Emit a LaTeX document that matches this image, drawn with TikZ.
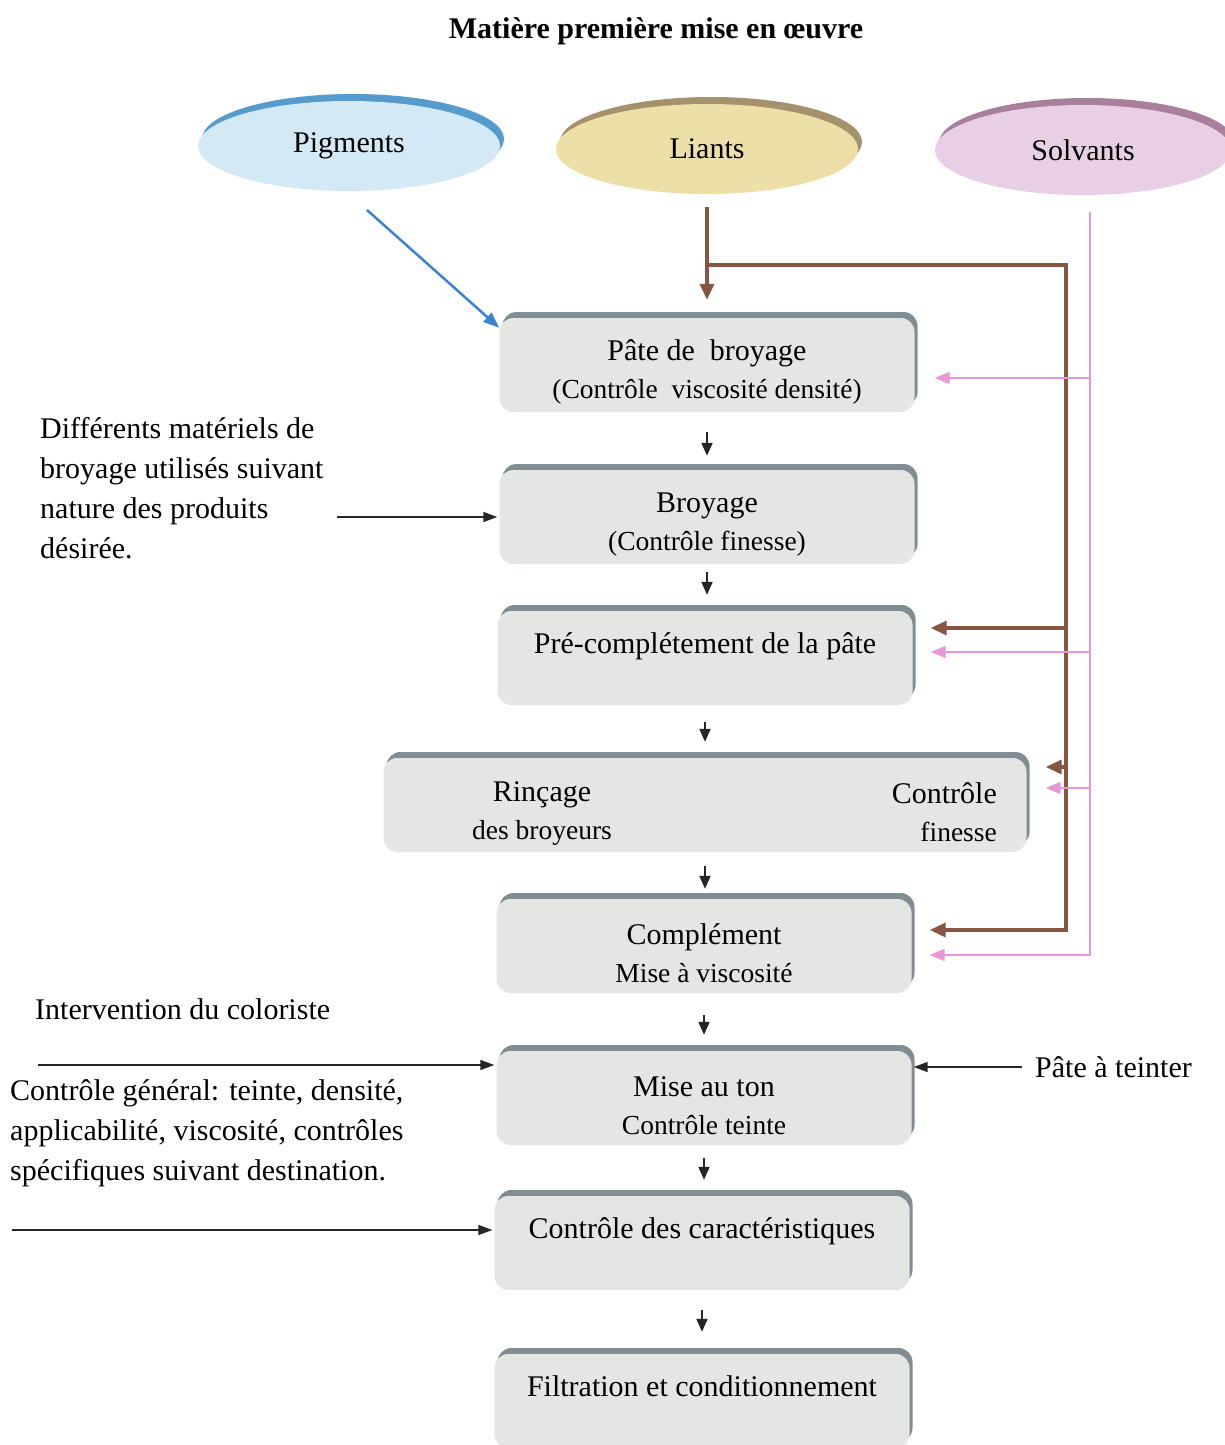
\documentclass[tikz,border=0pt]{standalone}
\usepackage{fontspec}
\setmainfont{Liberation Serif}
\usetikzlibrary{positioning,shapes.geometric,shadows,arrows.meta,calc}

\definecolor{pigfill}{RGB}{212,233,246}
\definecolor{pigrim}{RGB}{85,155,205}
\definecolor{liafill}{RGB}{237,223,168}
\definecolor{liarim}{RGB}{165,145,108}
\definecolor{solfill}{RGB}{232,207,229}
\definecolor{solrim}{RGB}{168,128,158}
\definecolor{slabfill}{RGB}{227,230,227}
\definecolor{slabrim}{RGB}{128,142,148}
\definecolor{liantbrown}{RGB}{135,85,65}
\definecolor{solvpink}{RGB}{232,150,212}
\definecolor{pigblue}{RGB}{60,130,210}

\newcommand{\txtmain}{\fontsize{30}{38}\selectfont}
\newcommand{\txtsub}{\fontsize{27.5}{38}\selectfont}
\newcommand{\txtside}{\fontsize{30}{40}\selectfont}
\newcommand{\lift}{\rule{0pt}{35pt}}

\begin{document}
\begin{tikzpicture}[x=1pt, y=-1pt,
  disk/.style={ellipse, minimum width=302pt, minimum height=90pt, inner sep=0pt, font=\txtmain},
  slab/.style={rectangle, rounded corners=14pt, fill=slabfill, minimum width=415pt, minimum height=94pt, inner sep=0pt, align=center, font=\txtmain,
    drop shadow={shadow xshift=3pt, shadow yshift=6pt, fill=slabrim, opacity=1}},
  oneline/.style={text height=21pt, text depth=31pt},
  sidetext/.style={inner sep=0pt, font=\txtside, align=left},
  steparrow/.style={-{Triangle[length=13pt,width=11pt]}, line width=2pt, black!85},
  sidearrow/.style={-{Triangle[length=14pt,width=10pt]}, line width=1.5pt, black!85},
  brownline/.style={line width=3.4pt, liantbrown},
  brownarrow/.style={brownline, -{Triangle[length=16pt,width=14pt]}},
  pinkline/.style={line width=1.8pt, solvpink},
  pinkarrow/.style={pinkline, -{Triangle[length=15pt,width=12pt]}},
  bluearrow/.style={line width=2.5pt, pigblue, -{Triangle[length=16pt,width=12pt]}}]
\useasboundingbox (0,0) rectangle (1225,1445);
\fill[white] (0,0) rectangle (1225,1445);

\node[font=\bfseries\txtmain] (node_titre) [] at (656,31) {Matière première mise en œuvre};

% matieres premieres
\node[disk, fill=pigfill, drop shadow={shadow xshift=4pt, shadow yshift=7pt, fill=pigrim, opacity=1}] (node_pigments) [] at (349,146) {Pigments};
\node[disk, fill=liafill, drop shadow={shadow xshift=4pt, shadow yshift=7pt, fill=liarim, opacity=1}] (node_liants) [] at (707,149) {Liants};
\node[disk, fill=solfill, minimum width=296pt, drop shadow={shadow xshift=4pt, shadow yshift=7pt, fill=solrim, opacity=1}] (node_solvants) [] at (1083,150) {Solvants};

% etapes
\node[slab] (node_pate) [] at (707,365) {\lift Pâte de~ broyage\\ \txtsub (Contrôle~ viscosité densité)};
\node[slab] (node_broyage) [] at (707,517) {\lift Broyage\\ \txtsub (Contrôle finesse)};
\node[slab, oneline] (node_precomp) [] at (705,658) {Pré-complétement de la pâte};
\node[slab, minimum width=643pt] (node_rincage) [] at (705,805) {};
\node[inner sep=0pt, align=center, font=\txtmain] (node_rincage_l) [] at (542,814) {Rinçage\\ \txtsub des broyeurs};
\node[inner sep=0pt, align=right, font=\txtmain, anchor=east] (node_rincage_r) [] at (997,812) {Contrôle\\ \txtsub finesse};
\node[slab] (node_complement) [] at (704,946) {\lift Complément\\ \txtsub Mise à viscosité};
\node[slab] (node_ton) [] at (704,1098) {\lift Mise au ton\\ \txtsub Contrôle teinte};
\node[slab, oneline] (node_caract) [] at (702,1243) {Contrôle des caractéristiques};
\node[slab, oneline] (node_filtration) [] at (702,1401) {Filtration et conditionnement};

\draw[steparrow, shorten <=20pt, shorten >=14pt] (node_pate.south) -- (node_pate.south |- node_broyage.north);
\draw[steparrow, shorten <=8pt, shorten >=16pt] (node_broyage.south) -- (node_broyage.south |- node_precomp.north);
\draw[steparrow, shorten <=17pt, shorten >=16pt] (node_precomp.south) -- (node_precomp.south |- node_rincage.north);
\draw[steparrow, shorten <=14pt, shorten >=10pt] (node_rincage.south) -- (node_rincage.south |- node_complement.north);
\draw[steparrow, shorten <=22pt, shorten >=16pt] (node_complement.south) -- (node_complement.south |- node_ton.north);
\draw[steparrow, shorten <=13pt, shorten >=16pt] (node_ton.south) -- (node_ton.south |- node_caract.north);
\draw[steparrow, shorten <=20pt, shorten >=22pt] (node_caract.south) -- (node_caract.south |- node_filtration.north);

% pigments
\coordinate (pig_out) at (367,210);
\draw[bluearrow] (pig_out) -- ($(node_pate.north west)+(0,10)$);

% liants
\coordinate (brown_corner) at (1066,265);
\draw[brownarrow, shorten <=13pt, shorten >=18pt] (node_liants.south) -- (node_pate.north);
\draw[brownarrow, shorten >=18pt] (node_liants.south |- brown_corner) -- (brown_corner) |- (node_complement.east |- 0,930);
\draw[brownarrow, shorten >=18pt] (brown_corner |- 0,628) -- (node_precomp.east |- 0,628);
\draw[brownarrow, shorten >=19pt] (brown_corner |- 0,767) -- (node_rincage.east |- 0,767);

% solvants
\coordinate (pink_top) at (1090,212);
\draw[pinkarrow, shorten >=18pt] (pink_top) |- (node_complement.east |- 0,955);
\draw[pinkarrow, shorten >=20pt] (pink_top |- 0,378) -- (node_pate.east |- 0,378);
\draw[pinkarrow, shorten >=18pt] (pink_top |- 0,652) -- (node_precomp.east |- 0,652);
\draw[pinkarrow, shorten >=19pt] (pink_top |- 0,788) -- (node_rincage.east |- 0,788);

% entrees laterales
\node[sidetext, anchor=west] (node_materiels) [] at (40,488) {Différents matériels de\\ broyage utilisés suivant\\ nature des produits\\ désirée.};
\draw[sidearrow, shorten <=13pt, shorten >=2pt] (node_materiels.east |- node_broyage) -- (node_broyage.west);

\node[sidetext, anchor=west] (node_coloriste) [] at (35,1009) {Intervention du coloriste};
\coordinate (coloriste_in) at (38,1065);
\draw[sidearrow, shorten >=2pt] (coloriste_in) -- (node_ton.west |- coloriste_in);

\node[sidetext, anchor=west] (node_general) [] at (10,1133) {Contrôle général: teinte, densité,\\ applicabilité, viscosité, contrôles\\ spécifiques suivant destination.};
\coordinate (general_in) at (12,1230);
\draw[sidearrow, shorten >=2pt] (general_in) -- (node_caract.west |- general_in);

\node[sidetext, anchor=west] (node_teinter) [] at (1035,1067) {Pâte à teinter};
\draw[sidearrow, shorten <=13pt, shorten >=2pt] (node_teinter.west) -- (node_ton.east |- node_teinter.west);
\end{tikzpicture}
\end{document}
